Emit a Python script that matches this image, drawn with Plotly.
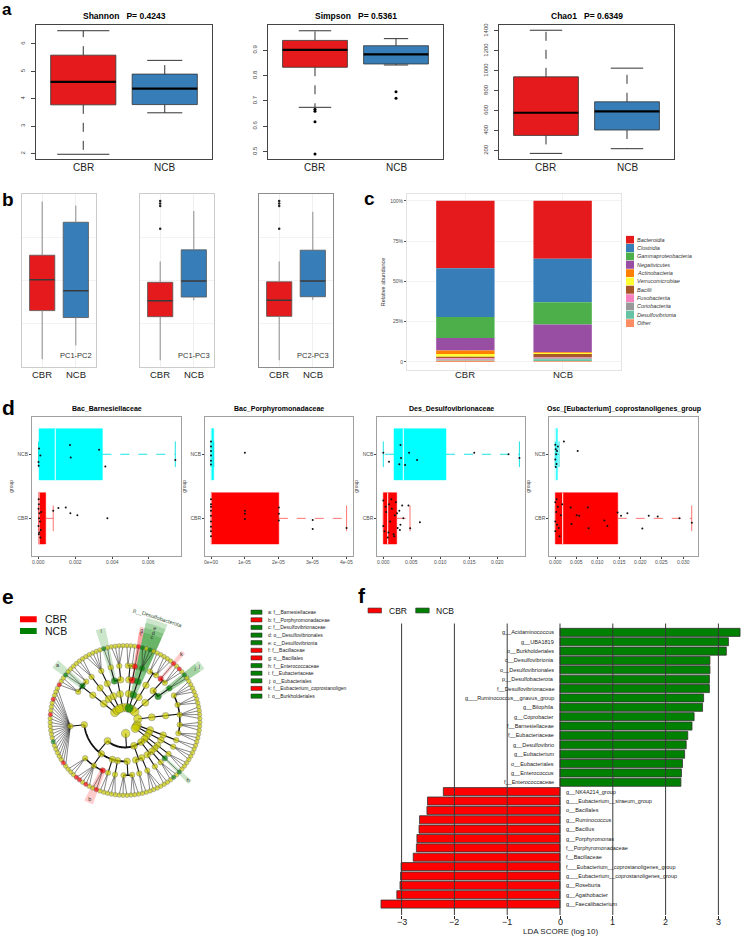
import numpy as np
import plotly.graph_objects as go

W, H = 742, 937
FONT = "Liberation Sans, Arial, Helvetica, sans-serif"

# ======================= DATA =======================
groups = ["CBR", "NCB"]

# ---- a: alpha diversity  [lower whisker, Q1, median, Q3, upper whisker]
alpha_titles = ["Shannon", "Simpson", "Chao1"]
alpha_pvalues = ["0.4243", "0.5361", "0.6349"]
shannon_cbr = [1.98, 3.78, 4.62, 5.59, 6.48]
shannon_ncb = [3.49, 3.79, 4.37, 4.90, 5.40]
simpson_cbr = [0.675, 0.833, 0.902, 0.939, 0.977]
simpson_ncb = [0.842, 0.846, 0.884, 0.918, 0.946]
simpson_cbr_out = [0.667, 0.659, 0.618, 0.491]
simpson_ncb_out = [0.736, 0.711]
chao1_cbr = [173, 353, 580, 940, 1407]
chao1_ncb = [220, 407, 593, 690, 1027]
shannon_ticks = [2, 3, 4, 5, 6]
simpson_ticks = [0.5, 0.6, 0.7, 0.8, 0.9]
chao1_ticks = [200, 400, 600, 800, 1000, 1200, 1400]

# ---- b: PC distances
pc_labels = ["PC1-PC2", "PC1-PC3", "PC2-PC3"]
pc12_cbr = [0.46, 3.26, 5.04, 6.45, 9.54]
pc12_ncb = [1.26, 2.86, 4.40, 8.35, 9.31]
pc13_cbr = [0.40, 2.91, 3.83, 4.89, 6.09]
pc13_ncb = [3.85, 4.04, 4.96, 6.76, 9.00]
pc13_cbr_out = [9.58, 9.43, 9.29, 7.97]
pc23_cbr = [0.40, 2.93, 3.85, 4.92, 6.09]
pc23_ncb = [3.88, 4.06, 4.97, 6.74, 8.95]
pc23_cbr_out = [9.58, 9.43, 9.29, 7.97]

# ---- c: class composition (%)
c_classes = ["Bacteroidia", "Clostridia", "Gammaproteobacteria", "Negativicutes",
             "Actinobacteria", "Verrucomicrobiae", "Bacilli", "Fusobacteriia",
             "Coriobacteriia", "Desulfovibrionia", "Other"]
c_cbr = [41.8, 30.3, 13.0, 7.7, 2.2, 1.8, 0.8, 0.8, 0.5, 0.4, 0.7]
c_ncb = [35.9, 27.1, 13.8, 17.2, 0.4, 0.6, 2.2, 0.5, 0.6, 1.2, 0.5]
c_colors = ["#E41A1C", "#377EB8", "#4DAF4A", "#984EA3", "#FF7F00", "#FFFF33",
            "#A65628", "#F781BF", "#999999", "#66C2A5", "#FC8D62"]
c_ticks = [0, 25, 50, 75, 100]
c_ticktext = ["0", "25%", "50%", "75%", "100%"]

# ---- d: relative abundance boxes  [lower, Q1, median, Q3, upper]
d_titles = ["Bac_Barnesiellaceae", "Bac_Porphyromonadaceae",
            "Des_Desulfovibrionaceae", "Osc_[Eubacterium]_coprostanoligenes_group"]
d1_cbr = [0.0, 0.0, 0.00003, 0.00039, 0.0008]
d1_ncb = [0.0, 0.00003, 0.00091, 0.00347, 0.00743]
d2_cbr = [0.0, 0.0, 0.0, 2.0e-5, 4.0e-5]
d2_ncb = [0.0, 0.0, 0.0, 0.08e-5, 0.08e-5]
d3_cbr = [0.0, 0.0, 0.00077, 0.00234, 0.00467]
d3_ncb = [0.0, 0.00187, 0.0035, 0.01096, 0.0238]
d4_cbr = [0.0, 0.0, 0.00173, 0.01463, 0.03197]
d4_ncb = [0.0, 0.0, 0.0001, 0.00047, 0.00087]
d1_cbr_pts = [0.00001, 0.00002, 0.0, 0.00005, 0.00003, 0.00008, 0.0, 0.00012, 0.00002, 0.0001, 0.00015, 0.00004,
              0.0008, 0.00108, 0.00148, 0.00173, 0.00211, 0.00374]
d1_cbr_jit = [0.3, 0.22, 0.15, 0.08, 0.0, -0.05, -0.12, -0.18, -0.25, -0.3, 0.1, -0.22,
              0.12, 0.16, 0.17, 0.08, 0.05, 0.0]
d1_ncb_pts = [0.00003, 0.0001, 0.0, 0.00001, 0.00171, 0.00175, 0.00329, 0.00363, 0.00743]
d1_ncb_jit = [0.09, -0.02, -0.12, -0.18, 0.145, -0.05, 0.07, -0.19, -0.09]
d2_cbr_pts = [0, 0, 0, 0, 0, 0, 0, 0, 0, 1.0e-5, 1.0e-5, 1.0e-5, 2.0e-5, 2.0e-5, 2.0e-5, 3.0e-5, 3.0e-5, 4.0e-5]
d2_cbr_jit = [0.3, 0.22, 0.12, 0.04, -0.05, -0.13, -0.2, -0.28, 0.18, 0.12, 0.07, -0.01, 0.17, 0.07, -0.035, -0.025, -0.165, -0.15]
d2_ncb_pts = [0, 0, 0, 0, 0, 0, 1.0e-5]
d2_ncb_jit = [0.2, 0.12, 0.05, -0.02, -0.1, -0.16, 0.025]
d3_cbr_pts = [0.0, 0.0002, 0.0005, 0.0008, 0.001, 0.0012, 0.0015, 0.0018, 0.002, 0.0022, 0.0025,
              0.0028, 0.003, 0.0033, 0.0035, 0.0, 0.0004, 0.0009, 0.0014, 0.0019, 0.0024, 0.0029,
              0.0044, 0.0064, 0.0047]
d3_cbr_jit = [0.28, -0.2, 0.1, -0.3, 0.22, -0.05, 0.15, -0.25, 0.05, 0.25, -0.15, 0.12, -0.1, 0.2, 0.0,
              -0.12, 0.18, -0.22, 0.3, -0.28, 0.08, -0.18, 0.2, -0.06, -0.155]
d3_ncb_pts = [0.0, 0.001, 0.003, 0.0031, 0.0028, 0.0038, 0.0045, 0.0059, 0.0159, 0.0219, 0.0238]
d3_ncb_jit = [0.025, -0.115, 0.145, -0.06, -0.155, -0.166, 0.025, -0.09, 0.025, 0.0, -0.06]
d4_cbr_pts = [0.0, 0.0, 0.0002, 0.0004, 0.0006, 0.001, 0.0013, 0.0016, 0.0, 0.0003, 0.0008,
              0.0036, 0.005, 0.0056, 0.0076, 0.0078, 0.0115, 0.0122, 0.0038, 0.0146, 0.0154,
              0.0169, 0.0204, 0.0219, 0.024, 0.0291, 0.032]
d4_cbr_jit = [0.25, -0.2, 0.1, -0.1, 0.18, -0.28, 0.05, 0.22, -0.05, 0.3, -0.15,
              0.17, 0.05, 0.04, 0.17, -0.155, -0.035, -0.12, -0.09, 0.09, 0.04,
              0.08, -0.16, 0.04, 0.03, 0.0, -0.07]
d4_ncb_pts = [0.0, 0.0001, 0.0002, 0.0, 0.0003, 0.0004, 0.0001, 0.0006, 0.002, 0.00525]
d4_ncb_jit = [0.15, 0.08, 0.0, -0.08, -0.15, 0.05, -0.2, 0.12, 0.2, 0.05]
d1_ticks = [0, 0.002, 0.004, 0.006]
d2_ticks = [0, 1e-5, 2e-5, 3e-5, 4e-5]
d3_ticks = [0, 0.005, 0.010, 0.015, 0.020]
d4_ticks = [0, 0.005, 0.010, 0.015, 0.020, 0.025, 0.030]
d1_ticktext = ["0.000", "0.002", "0.004", "0.006"]
d2_ticktext = ["0e+00", "1e-05", "2e-05", "3e-05", "4e-05"]
d3_ticktext = ["0.000", "0.005", "0.010", "0.015", "0.020"]
d4_ticktext = ["0.000", "0.005", "0.010", "0.015", "0.020", "0.025", "0.030"]

# ---- e: cladogram (phylum > class > order > family > genus string; y=n.s., r=CBR, g=NCB)
clado_tree = [
    ("p__Proteobacteria", [("c__Gammaproteobacteria", [
        ("o__Burkholderiales", [("f__Sutterellaceae", "gy")]),
        ("o__Enterobacterales", [("f__Enterobacteriaceae", "yyyy")])])]),
    ("p__Firmicutes_B", [("c__Bacilli", [
        ("o__Lactobacillales", [("f__Lactobacillaceae", "yy"), ("f__Streptococcaceae", "y")]),
        ("o__Bacillales", [("f__Bacillaceae", "r")])])]),
    ("p__Desulfobacterota", [("c__Desulfovibrionia", [("o__Desulfovibrionales", [
        ("f__Desulfovibrionaceae", "gygy")])])]),
    ("p__Actinobacteriota", [("c__Coriobacteriia", [("o__Coriobacteriales", [
        ("f__Coriobacteriaceae", "yy"), ("f__Eggerthellaceae", "yyy")])])]),
    ("p__Firmicutes_D", [("c__Clostridia_D", [
        ("o__Oscillospirales_D", [("f__Eubacterium_coprostanoligen", "r"), ("f__Oscillospiraceae", "yry")]),
        ("o__Eubacteriales", [("f__Eubacteriaceae", "gy")])])]),
    ("p__Bacteroidota_R", [("c__Bacteroidia_R", [("o__Bacteroidales_R", [
        ("f__Bacteroidaceae", "yyyy"), ("f__Tannerellaceae", "yyy"), ("f__Prevotellaceae", "yyyy"),
        ("f__Muribaculaceae", "yyy"), ("f__Marinifilaceae", "yyy")])])]),
    ("p__Verrucomicrobiota", [("c__Verrucomicrobiae", [("o__Verrucomicrobiales", [("f__Akkermansiaceae", "yy")])])]),
    ("p__Fusobacteriota", [("c__Fusobacteriia", [("o__Fusobacteriales", [("f__Fusobacteriaceae", "yyy")])])]),
    ("p__Actinobacteriota_B", [("c__Actinobacteria", [("o__Bifidobacteriales", [("f__Bifidobacteriaceae", "yyy")])])]),
    ("p__Firmicutes", [
        ("c__Bacilli_C", [("o__Lactobacillales_B", [("f__Enterococcaceae", "g")])]),
        ("c__Negativicutes", [
            ("o__Acidaminococcales", [("f__Acidaminococcaceae", "ygy")]),
            ("o__Veillonellales", [("f__Veillonellaceae", "yy")])]),
        ("c__Bacilli_B", [
            ("o__Erysipelotrichales", [("f__Erysipelotrichaceae", "yyyy")]),
            ("o__Monoglobales", [("f__Monoglobaceae", "yy")])]),
        ("c__Clostridia", [
            ("o__Peptostreptococcales", [("f__Peptostreptococcaceae", "yyy"), ("f__Anaerovoracaceae", "yyy")]),
            ("o__Christensenellales", [("f__Christensenellaceae", "yyy")]),
            ("o__Clostridiales", [("f__Clostridiaceae", "yy")]),
            ("o__Oscillospirales", [("f__Porphyromonadaceae", "ry"), ("f__Ruminococcaceae", "yryrr"),
                                    ("f__Butyricicoccaceae", "yyy")]),
            ("o__Lachnospirales", [("f__Lachnospiraceae", "yryyyyygyyyyyyryyyryyy")])])]),
    ("p__Bacteroidota", [("c__Bacteroidia", [("o__Bacteroidales", [
        ("f__Rikenellaceae", "ryy"), ("f__Barnesiellaceae", "gy"), ("f__Odoribacteraceae", "yy")])])]),
    ("p__Campylobacterota", [("c__Campylobacteria", [("o__Campylobacterales", [("f__Campylobacteraceae", "yyy")])])]),
    ("p__Cyanobacteria", [("c__Vampirivibrionia", [("o__Gastranaerophilales", [("f__Gastranaerophilaceae", "yyyyy")])])]),
]
clado_markers = {
    "f__Barnesiellaceae": ("NCB", "a"), "f__Porphyromonadaceae": ("CBR", "b"),
    "f__Desulfovibrionaceae": ("NCB", "c"), "o__Desulfovibrionales": ("NCB", "d"),
    "c__Desulfovibrionia": ("NCB", "e"), "f__Bacillaceae": ("CBR", "f"),
    "o__Bacillales": ("CBR", "g"), "f__Enterococcaceae": ("NCB", "h"),
    "f__Eubacteriaceae": ("NCB", "i"), "o__Eubacteriales": ("NCB", "j"),
    "f__Eubacterium_coprostanoligen": ("CBR", "k"), "o__Burkholderiales": ("NCB", "l"),
    "p__Desulfobacterota": ("NCB", "p__Desulfobacterota"),
}

# ---- f: LDA scores (top to bottom)
lda_labels = ["g__Acidaminococcus", "g__UBA1819", "o__Burkholderiales", "c__Desulfovibrionia",
              "o__Desulfovibrionales", "p__Desulfobacterota", "f__Desulfovibrionaceae",
              "g___Ruminococcus__gnavus_group", "g__Bilophila", "g__Coprobacter", "f__Barnesiellaceae",
              "f__Eubacteriaceae", "g__Desulfovibrio", "g__Eubacterium", "o__Eubacteriales",
              "g__Enterococcus", "f__Enterococcaceae", "g__NK4A214_group", "g___Eubacterium__siraeum_group",
              "o__Bacillales", "g__Ruminococcus", "g__Bacillus", "g__Porphyromonas", "f__Porphyromonadaceae",
              "f__Bacillaceae", "f___Eubacterium__coprostanoligenes_group",
              "g___Eubacterium__coprostanoligenes_group", "g__Roseburia", "g__Agathobacter",
              "g__Faecalibacterium"]
lda_scores = [3.41, 3.19, 3.15, 2.84, 2.84, 2.83, 2.83, 2.72, 2.70, 2.54, 2.50, 2.42, 2.39, 2.36, 2.32,
              2.30, 2.29, -2.21, -2.51, -2.52, -2.66, -2.67, -2.71, -2.72, -2.78, -3.01, -3.02, -3.03,
              -3.09, -3.39]
lda_ticks = [-3, -2, -1, 0, 1, 2, 3]

# ======================= STYLE / HELPERS =======================
RED_A, BLUE_A = "#E41A1C", "#377EB8"
CYAN, RED_D = "#00FFFF", "#FF0000"
GREEN_F, RED_F = "#008000", "#FF0000"
GROUP_COL = {"CBR": RED_F, "NCB": GREEN_F}

fig = go.Figure()
lay = dict(width=W, height=H, margin=dict(l=0, r=0, t=0, b=0), paper_bgcolor="white",
           plot_bgcolor="white", showlegend=False, barmode="overlay",
           font=dict(family=FONT, color="black", size=8), annotations=[])


def dxp(l, r):
    return [l / W, r / W]


def dyp(t, b):
    return [1 - b / H, 1 - t / H]


def names(n):
    return ("x" if n == 1 else f"x{n}"), ("y" if n == 1 else f"y{n}")


def setax(n, xpx, ypx, xa, ya):
    xn, yn = names(n)
    lay["xaxis" if n == 1 else f"xaxis{n}"] = dict(domain=dxp(*xpx), anchor=yn, **xa)
    lay["yaxis" if n == 1 else f"yaxis{n}"] = dict(domain=dyp(*ypx), anchor=xn, **ya)


HID = dict(visible=False, showgrid=False, zeroline=False, fixedrange=True)


def pann(text, x, y, size, xanchor="center", yanchor="middle", color="black", angle=0):
    lay["annotations"].append(dict(text=text, x=x / W, y=1 - y / H, xref="paper", yref="paper",
                                   showarrow=False, xanchor=xanchor, yanchor=yanchor, textangle=angle,
                                   font=dict(size=size, color=color, family=FONT)))


def dann(text, n, x, y, size, xanchor="center", color="black", xshift=0, italic=False):
    xn, yn = names(n)
    if italic:
        text = f"<i>{text}</i>"
    lay["annotations"].append(dict(text=text, x=x, y=y, xref=xn, yref=yn, showarrow=False,
                                   xanchor=xanchor, yanchor="middle", xshift=xshift,
                                   font=dict(size=size, color=color, family=FONT)))


def xlab(text, n, x, ypx, size, color="#222"):
    """tick label under an x axis: x in data units, y in pixels"""
    xn, _ = names(n)
    lay["annotations"].append(dict(text=text, x=x, y=1 - ypx / H, xref=xn, yref="paper", showarrow=False,
                                   xanchor="center", yanchor="middle",
                                   font=dict(size=size, color=color, family=FONT)))


def seg(n, u, v, horiz, **line):
    xn, yn = names(n)
    x, y = (v, u) if horiz else (u, v)
    fig.add_trace(go.Scatter(x=x, y=y, mode="lines", line=line, xaxis=xn, yaxis=yn,
                             hoverinfo="skip", connectgaps=False))


def box(n, pos, st, fill, horiz=False, boxw=0.8, capw=0.4, edge="#333333", edgew=0.8,
        med_col="black", med_w=2.2, wcol="#333333", ww=1.0, wdash="dash", caps=True):
    lo, q1, med, q3, hi = st
    xn, yn = names(n)
    seg(n, [pos, pos, None, pos, pos], [q3, hi, None, q1, lo], horiz, color=wcol, width=ww, dash=wdash)
    if horiz:
        fig.add_trace(go.Bar(y=[pos], x=[q3 - q1], base=[q1], orientation="h", width=[boxw],
                             marker=dict(color=fill, line=dict(color=edge, width=edgew)),
                             xaxis=xn, yaxis=yn, hoverinfo="skip"))
    else:
        fig.add_trace(go.Bar(x=[pos], y=[q3 - q1], base=[q1], width=[boxw],
                             marker=dict(color=fill, line=dict(color=edge, width=edgew)),
                             xaxis=xn, yaxis=yn, hoverinfo="skip"))
    seg(n, [pos - boxw / 2, pos + boxw / 2], [med, med], horiz, color=med_col, width=med_w)
    if caps:
        h = capw / 2
        seg(n, [pos - h, pos + h, None, pos - h, pos + h], [hi, hi, None, lo, lo], horiz,
            color=wcol, width=ww)


def points(n, pos, vals, jit=None, horiz=False, size=4, color="black"):
    xn, yn = names(n)
    jj = jit if jit else [0] * len(vals)
    u = [pos + j for j in jj]
    x, y = (vals, u) if horiz else (u, vals)
    fig.add_trace(go.Scatter(x=x, y=y, mode="markers", xaxis=xn, yaxis=yn, hoverinfo="skip",
                             marker=dict(size=size, color=color, line=dict(width=0))))


# ======================= PANEL a =======================
a_cfg = [
    (shannon_cbr, shannon_ncb, [], [], shannon_ticks, [1.82, 6.69], (36, 212), [0.64, 0.43]),
    (simpson_cbr, simpson_ncb, simpson_cbr_out, simpson_ncb_out, simpson_ticks, [0.4724, 1.0], (268, 443), [0.4, 0.3]),
    (chao1_cbr, chao1_ncb, [], [], chao1_ticks, [120, 1460], (499, 674), [0.4, 0.4]),
]
for k, (cb, nc, cbo, nco, ticks, yr, xpx, capw) in enumerate(a_cfg):
    n = k + 1
    box(n, 1, cb, RED_A, capw=capw[0])
    box(n, 2, nc, BLUE_A, capw=capw[1])
    if cbo:
        points(n, 1, cbo, size=3)
    if nco:
        points(n, 2, nco, size=3)
    setax(n, xpx, (23, 157),
          dict(range=[0.42, 2.58], showticklabels=False, ticks="", showgrid=False,
               zeroline=False, showline=True, mirror=True, linecolor="#444", linewidth=1, fixedrange=True),
          dict(range=yr, tickvals=ticks, ticks="outside", ticklen=4, tickcolor="#444", tickangle=-90,
               ticklabelstandoff=4,
               tickfont=dict(size=6, color="#444"), showgrid=False, zeroline=False, showline=True,
               mirror=True, linecolor="#444", linewidth=1, fixedrange=True))
    for i, g in enumerate(groups):
        xlab(g, n, i + 1, 165.7, 10)
    cx = (xpx[0] + xpx[1]) / 2
    pann(f"<b>{alpha_titles[k]}\u00a0\u00a0\u00a0P= {alpha_pvalues[k]}</b>", cx, 14, 8.5)

# ======================= PANEL b =======================
b_cfg = [(pc12_cbr, pc12_ncb, []), (pc13_cbr, pc13_ncb, pc13_cbr_out), (pc23_cbr, pc23_ncb, pc23_cbr_out)]
b_px = [(22, 96), (140, 214), (259, 333)]
b_frame = ["#CCCCCC", "#CCCCCC", "#8C8C8C"]
for k, (cb, nc, cbo) in enumerate(b_cfg):
    n = 4 + k
    box(n, 1, cb, RED_A, boxw=0.75, edge="#555555", edgew=0.8, med_col="#3A3A3A", med_w=1.5,
        wcol="#8C8C8C", ww=1, wdash="solid", caps=False)
    box(n, 2, nc, BLUE_A, boxw=0.75, edge="#555555", edgew=0.8, med_col="#3A3A3A", med_w=1.5,
        wcol="#8C8C8C", ww=1, wdash="solid", caps=False)
    if cbo:
        points(n, 1, cbo, size=2.5, color="#222")
    setax(n, b_px[k], (192, 366),
          dict(range=[0.4, 2.6], tickvals=[1, 2], showticklabels=False, ticks="", showgrid=True,
               gridcolor="#EFEFEF", zeroline=False, showline=True, mirror=True, linecolor=b_frame[k],
               linewidth=1, fixedrange=True),
          dict(range=[0, 10], dtick=2.5, showticklabels=False, ticks="", showgrid=True,
               gridcolor="#F3F3F3", zeroline=False, showline=True, mirror=True, linecolor=b_frame[k],
               linewidth=1, fixedrange=True))
    for i, g in enumerate(groups):
        xlab(g, n, i + 1, 373.3, 9.5)
    xn, yn = names(n)
    lay["annotations"].append(dict(text=pc_labels[k], x=0.97, y=0.065, xref=f"{xn} domain",
                                   yref=f"{yn} domain", showarrow=False, xanchor="right",
                                   yanchor="middle", font=dict(size=7.5, color="#333", family=FONT)))

# ======================= PANEL c =======================
n = 7
xn, yn = names(n)
cum_cbr = np.concatenate([np.cumsum(c_cbr[::-1])[::-1][1:], [0]])
cum_ncb = np.concatenate([np.cumsum(c_ncb[::-1])[::-1][1:], [0]])
for i, cls in enumerate(c_classes):
    fig.add_trace(go.Bar(x=[1, 2], y=[c_cbr[i], c_ncb[i]], base=[cum_cbr[i], cum_ncb[i]], width=0.6,
                         marker=dict(color=c_colors[i], line=dict(width=0)), xaxis=xn, yaxis=yn,
                         hoverinfo="skip"))
setax(n, (407, 621), (192, 369),
      dict(range=[0.4, 2.6], tickvals=[1, 2], showticklabels=False, ticks="", showgrid=True, gridcolor="#F2F2F2",
           zeroline=False, showline=True, mirror=True, linecolor="#E3E3E3", linewidth=1, fixedrange=True),
      dict(range=[-5.1, 104.5], tickvals=c_ticks, ticktext=c_ticktext, ticks="outside", ticklen=2,
           tickcolor="#555", tickfont=dict(size=5, color="#4D4D4D"), showgrid=True, gridcolor="#F2F2F2",
           zeroline=False, showline=True, mirror=True, linecolor="#E3E3E3", linewidth=1,
           title=dict(text="Relative abundance", font=dict(size=5.5, color="#333"), standoff=4),
           fixedrange=True))
for i, g in enumerate(groups):
    xlab(g, n, i + 1, 373.3, 9.5)
# legend c
n = 8
xn, yn = names(n)
rows = list(range(len(c_classes)))
fig.add_trace(go.Bar(y=rows, x=[8] * len(rows), base=[0] * len(rows), orientation="h", width=0.94,
                     marker=dict(color=c_colors, line=dict(width=0)), xaxis=xn, yaxis=yn, hoverinfo="skip"))
for i, cls in enumerate(c_classes):
    dann(cls, n, 8.6, i, 5.5, xanchor="left", color="#333", italic=True)
setax(n, (626, 720), (234, 326), dict(range=[0, 94], **HID), dict(range=[len(rows) - 0.5, -0.5], **HID))

# ======================= PANEL d =======================
d_px = [(32, 181), (205, 353.3), (377.3, 525.3), (549.3, 697.7)]
d_xr = [[-0.000353, 0.00774], [-0.177e-5, 4.198e-5], [-0.00105, 0.02483], [-0.00141, 0.03338]]
d_stats = [(d1_cbr, d1_ncb), (d2_cbr, d2_ncb), (d3_cbr, d3_ncb), (d4_cbr, d4_ncb)]
d_pts = [(d1_cbr_pts, d1_cbr_jit, d1_ncb_pts, d1_ncb_jit), (d2_cbr_pts, d2_cbr_jit, d2_ncb_pts, d2_ncb_jit),
         (d3_cbr_pts, d3_cbr_jit, d3_ncb_pts, d3_ncb_jit), (d4_cbr_pts, d4_cbr_jit, d4_ncb_pts, d4_ncb_jit)]
d_tk = [(d1_ticks, d1_ticktext), (d2_ticks, d2_ticktext), (d3_ticks, d3_ticktext), (d4_ticks, d4_ticktext)]
for k in range(4):
    n = 9 + k
    cb, nc = d_stats[k]
    box(n, 1, cb, RED_D, horiz=True, boxw=0.8, capw=0.4, edge=RED_D, edgew=0.5, med_col="white", med_w=1,
        wcol="rgba(255,80,80,0.8)", ww=1, wdash="dash")
    box(n, 2, nc, CYAN, horiz=True, boxw=0.8, capw=0.4, edge=CYAN, edgew=0.5, med_col="white", med_w=1,
        wcol="rgba(0,225,225,0.9)", ww=1, wdash="dash")
    cp, cj, npt, nj = d_pts[k]
    points(n, 1, cp, cj, horiz=True, size=2, color="#111")
    points(n, 2, npt, nj, horiz=True, size=2, color="#111")
    setax(n, d_px[k], (416, 554.7),
          dict(range=d_xr[k], tickvals=d_tk[k][0], showticklabels=False, ticks="outside", ticklen=2,
               tickcolor="#444", showgrid=False, zeroline=False,
               showline=True, mirror=True, linecolor="#A0A0A0", linewidth=1, fixedrange=True),
          dict(range=[0.42, 2.58], tickvals=[1, 2], ticktext=groups, ticks="outside", ticklen=2,
               tickcolor="#444", tickfont=dict(size=5, color="#4D4D4D"), showgrid=False, zeroline=False,
               showline=True, mirror=True, linecolor="#A0A0A0", linewidth=1, fixedrange=True,
               title=dict(text="group", font=dict(size=5, color="#444"), standoff=3)))
    for t, tt in zip(*d_tk[k]):
        xlab(tt, n, t, 560.7, 5, color="#4D4D4D")
    pann(f"<b>{d_titles[k]}</b>", (d_px[k][0] + d_px[k][1]) / 2, 407.7, 7)

# ======================= PANEL e (cladogram) =======================
R_LEVEL = [0, 13, 27, 41, 55, 75]
NODE_SIZE = [3, 8.5, 7, 6.5, 5.5, 4.5]
ARC_W = [0, 0, 2.0, 1.8, 1.5, 0.5]
YEL, RED_N, GRN_N = "#CCCC00", "#FF0000", "#008000"
code_col = {"y": YEL, "r": RED_N, "g": GRN_N}


def count(node):
    name, ch = node
    return len(ch) if isinstance(ch, str) else sum(count(c) for c in ch)


n_leaves = sum(count(p) for p in clado_tree)
spacing = 360.0 / n_leaves
theta0 = 108.0
counter = [0]
nodes, clades = [], []
arcs = {2: [], 3: [], 4: []}      # (r, th_from, th_to)
radials = []                      # (r0, r1, th)
fans = []                         # (r0, th0, r1, th1)


def place(name, children, level):
    child_th = []
    if isinstance(children, str):
        for code in children:
            i = counter[0]
            counter[0] += 1
            th = theta0 - (i + 0.5) * spacing
            nodes.append((R_LEVEL[5], th, 5, code_col[code]))
            child_th.append(th)
        lo, hi = min(child_th), max(child_th)
    else:
        lo, hi = 1e9, -1e9
        for cname, cch in children:
            th, (l, h) = place(cname, cch, level + 1)
            child_th.append(th)
            lo, hi = min(lo, l), max(hi, h)
    th_node = (min(child_th) + max(child_th)) / 2
    if level == 4:
        for th in child_th:
            fans.append((R_LEVEL[4], th_node, R_LEVEL[5], th))
    else:
        radials.append((R_LEVEL[level], R_LEVEL[level + 1], th_node))
        if len(child_th) > 1:
            arcs[level + 1].append((R_LEVEL[level + 1], min(child_th), max(child_th)))
    col = YEL
    if name in clado_markers:
        col = code_col["r" if clado_markers[name][0] == "CBR" else "g"]
    nodes.append((R_LEVEL[level], th_node, level, col))
    clades.append((name, level, th_node, lo, hi))
    return th_node, (lo, hi)


for pname, pch in clado_tree:
    place(pname, pch, 1)

# wedges (highlight sectors)
for name, level, th, lo, hi in clades:
    if name in clado_markers:
        grp, lab = clado_markers[name]
        base = R_LEVEL[level] - 3 if level > 1 else R_LEVEL[2] - 5
        outer = 85 + (5 - level) * 5
        fill = "rgba(255,0,0,0.2)" if grp == "CBR" else "rgba(0,128,0,0.2)"
        fig.add_trace(go.Barpolar(r=[outer - base], base=[base], theta=[th], width=[hi - lo + spacing],
                                  marker=dict(color=fill, line=dict(width=0)), subplot="polar",
                                  hoverinfo="skip"))
# fans (family -> genus)
rr, tt = [], []
for r0, t0, r1, t1 in fans:
    rr += [r0, r1, None]
    tt += [t0, t1, None]
fig.add_trace(go.Scatterpolar(r=rr, theta=tt, mode="lines", subplot="polar", hoverinfo="skip",
                              line=dict(color="#111", width=0.5), connectgaps=False))
# radial connectors
rr, tt = [], []
for r0, r1, th in radials:
    rr += [r0, r1, None]
    tt += [th, th, None]
fig.add_trace(go.Scatterpolar(r=rr, theta=tt, mode="lines", subplot="polar", hoverinfo="skip",
                              line=dict(color="#111", width=1.1), connectgaps=False))
# arcs
for lev, lst in arcs.items():
    rr, tt = [], []
    for r, a0, a1 in lst:
        m = max(2, int(abs(a1 - a0) / 1.5) + 2)
        ts = np.linspace(a0, a1, m)
        rr += [r] * m + [None]
        tt += list(ts) + [None]
    fig.add_trace(go.Scatterpolar(r=rr, theta=tt, mode="lines", subplot="polar", hoverinfo="skip",
                                  line=dict(color="#111", width=ARC_W[lev]), connectgaps=False))
# nodes
nodes_sorted = sorted(nodes, key=lambda t: (t[3] != YEL))
fig.add_trace(go.Scatterpolar(r=[t[0] for t in nodes_sorted], theta=[t[1] for t in nodes_sorted],
                              mode="markers", subplot="polar", hoverinfo="skip",
                              marker=dict(size=[NODE_SIZE[t[2]] for t in nodes_sorted],
                                          color=[t[3] for t in nodes_sorted],
                                          line=dict(color="#555", width=0.5))))
# wedge letters
lr, lt, ltxt = [], [], []
for name, level, th, lo, hi in clades:
    if name in clado_markers and level > 1:
        lr.append(85 + (5 - level) * 5 - 3)
        lt.append(th)
        ltxt.append(clado_markers[name][1])
fig.add_trace(go.Scatterpolar(r=lr, theta=lt, text=ltxt, mode="text", subplot="polar", hoverinfo="skip",
                              textfont=dict(size=5.5, color="#333", family=FONT)))
CX, CY, RAD = 125, 720, 112
for name, level, th, lo, hi in clades:
    if name in clado_markers and level == 1:
        rl = 108
        px = CX + rl * np.cos(np.radians(th))
        py = CY - rl * np.sin(np.radians(th))
        pann(clado_markers[name][1], px, py, 5.5, color="#2F4F2F", angle=90 - th)

lay["polar"] = dict(domain=dict(x=dxp(CX - RAD, CX + RAD), y=dyp(CY - RAD, CY + RAD)),
                    bgcolor="rgba(0,0,0,0)", hole=0,
                    radialaxis=dict(visible=True, range=[0, RAD], autorange=False, showline=False,
                                    showticklabels=False, showgrid=False, ticks=""),
                    angularaxis=dict(visible=True, rotation=0, direction="counterclockwise",
                                     showline=False, showticklabels=False, showgrid=False, ticks=""))

# legend e (groups)
n = 13
xn, yn = names(n)
fig.add_trace(go.Bar(y=[0, 1], x=[16.7, 16.7], base=[2, 2], orientation="h", width=0.52,
                     marker=dict(color=[GROUP_COL[g] for g in groups], line=dict(width=0)),
                     xaxis=xn, yaxis=yn, hoverinfo="skip"))
for i, g in enumerate(groups):
    dann(g, n, 25, i, 10.5, xanchor="left", color="#111")
setax(n, (18, 90), (612.8, 636.2), dict(range=[0, 72], **HID), dict(range=[1.5, -0.5], **HID))

# legend e (biomarker letters)
n = 14
xn, yn = names(n)
leg_items = [(k, v) for k, v in clado_markers.items() if v[1] != k]
rows = list(range(len(leg_items)))
fig.add_trace(go.Bar(y=rows, x=[11] * len(rows), base=[1] * len(rows), orientation="h", width=0.55,
                     marker=dict(color=[GROUP_COL[v[0]] for k, v in leg_items], line=dict(color="#333", width=0.6)),
                     xaxis=xn, yaxis=yn, hoverinfo="skip"))
for i, (k, v) in enumerate(leg_items):
    dann(f"{v[1]}: {k}", n, 16, i, 5, xanchor="left", color="#222")
setax(n, (250, 370), (607.7, 699.4), dict(range=[0, 120], **HID), dict(range=[len(rows) - 0.5, -0.5], **HID))

# ======================= PANEL f (LDA) =======================
n = 15
xn, yn = names(n)
NF = len(lda_labels)
rows = [NF - 1 - i for i in range(NF)]
fyr = [-1.17, 29.96]
fig.add_trace(go.Bar(y=rows, x=lda_scores, base=[0] * NF, orientation="h", width=0.86,
                     marker=dict(color=[GREEN_F if v > 0 else RED_F for v in lda_scores],
                                 line=dict(color="#333", width=0.8)),
                     xaxis=xn, yaxis=yn, hoverinfo="skip"))
gx, gy = [], []
for t in lda_ticks:
    gx += [t, t, None]
    gy += [fyr[0], fyr[1], None]
fig.add_trace(go.Scatter(x=gx, y=gy, mode="lines", line=dict(color="#3A3A3A", width=1), xaxis=xn, yaxis=yn,
                         hoverinfo="skip", connectgaps=False))
for lab, v, r in zip(lda_labels, lda_scores, rows):
    if v > 0:
        dann(lab, n, 0, r, 5.5, xanchor="right", color="#222", xshift=-4)
    else:
        dann(lab, n, 0, r, 5.5, xanchor="left", color="#222", xshift=4)
setax(n, (378, 742), (622.7, 915),
      dict(range=[-3.447, 3.447], tickvals=lda_ticks, showticklabels=False,
           ticks="outside", ticklen=3, tickcolor="#222",
           showgrid=False, zeroline=False, showline=False, fixedrange=True),
      dict(range=fyr, showticklabels=False, ticks="", showgrid=False, zeroline=False, showline=False,
           fixedrange=True))
for t in lda_ticks:
    xlab(str(t).replace("-", "\u2212"), n, t, 922, 9, color="#222")
xlab("LDA SCORE (log 10)", n, 0, 931.5, 8, color="#222")
# legend f
n = 16
xn, yn = names(n)
fig.add_trace(go.Bar(y=[0, 0], x=[13.5, 13.5], base=[8 + 47.7 * i for i in range(2)], orientation="h",
                     width=0.38, marker=dict(color=[GROUP_COL[g] for g in groups], line=dict(color="#333", width=0.6)),
                     xaxis=xn, yaxis=yn, hoverinfo="skip"))
for i, g in enumerate(groups):
    dann(g, n, 26.7 + 47.7 * i, 0, 8.5, xanchor="left", color="#111")
setax(n, (360, 470), (603.3, 616.3), dict(range=[0, 110], **HID), dict(range=[-0.5, 0.5], **HID))

# ======================= PANEL LETTERS =======================
for letter, x, y, s in [("a", 0, 8, 17), ("b", 0, 198, 19), ("c", 362, 197, 19), ("d", 0, 406, 21),
                        ("e", 0, 596, 21), ("f", 356, 595, 21)]:
    pann(f"<b>{letter}</b>", x, y, s, xanchor="left")

fig.update_layout(**lay)
fig.write_html("out.html", config={"displayModeBar": False, "staticPlot": True},
               post_script="document.body.style.margin='0';document.body.style.overflow='hidden';")
